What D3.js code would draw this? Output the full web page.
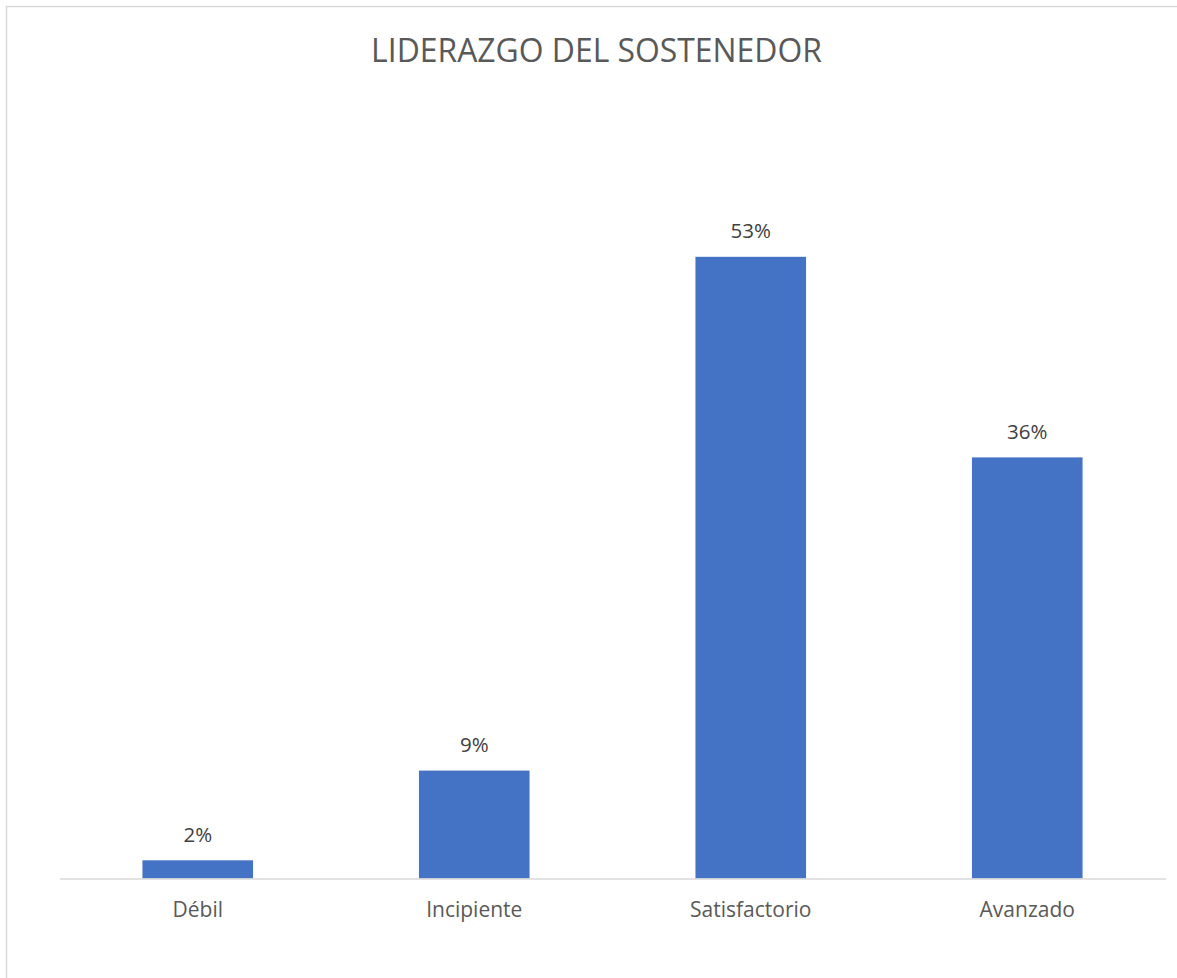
<!DOCTYPE html>
<html><head><meta charset="utf-8">
<script src="https://cdn.jsdelivr.net/npm/d3@7/dist/d3.min.js"></script>
<style>html,body{margin:0;padding:0;background:#fff;}svg{display:block;}</style>
</head><body>
<script>
const title = "LIDERAZGO DEL SOSTENEDOR";
const categories = ["Débil", "Incipiente", "Satisfactorio", "Avanzado"];
const values = [0.0155, 0.092, 0.53, 0.359];
const yDomain = [0, 0.6];

const W = 1177, H = 978;
const font = "'Open Sans', 'Noto Sans', sans-serif";
const svg = d3.select("body").append("svg").attr("width", W).attr("height", H);
svg.append("rect").attr("x", 6.5).attr("y", 6.5).attr("width", W + 10).attr("height", H + 10)
  .attr("fill", "#fff").attr("stroke", "#d9d9d9").attr("stroke-width", 1.5);

const plot = {left: 59.5, right: 1165.5, top: 174.7, bottom: 878.5};
const x = d3.scaleBand().domain(categories).range([plot.left, plot.right]).paddingInner(0.6).paddingOuter(0.3);
const y = d3.scaleLinear().domain(yDomain).range([plot.bottom, plot.top]);
const fmt = d3.format(".0%");

const t = svg.append("text").attr("x", (371 + 822) / 2).attr("y", 62.3).attr("text-anchor", "middle")
  .attr("font-family", font).attr("font-size", 31).attr("fill", "#595959").text(title);
const tl = t.node().getComputedTextLength();
t.attr("font-size", 31 * 451 / tl);

svg.append("g").selectAll("rect").data(values).join("rect")
  .attr("x", (d, i) => x(categories[i]))
  .attr("width", x.bandwidth())
  .attr("y", d => y(d))
  .attr("height", d => y(0) - y(d))
  .attr("fill", "#4472c4");

svg.append("g").selectAll("text").data(values).join("text")
  .attr("x", (d, i) => x(categories[i]) + x.bandwidth() / 2)
  .attr("y", d => y(d) - 18.5)
  .attr("text-anchor", "middle").attr("font-family", font).attr("font-size", 20.5)
  .attr("fill", "#404040").text(d => fmt(d));

const axis = d3.axisBottom(x).tickSize(0).tickPadding(0);
const ax = svg.append("g").attr("transform", `translate(0,${plot.bottom})`).call(axis);
ax.select(".domain").attr("stroke", "#d9d9d9").attr("stroke-width", 1.5);
ax.selectAll(".tick text").attr("font-family", font).attr("font-size", 21).attr("fill", "#595959")
  .attr("dy", null).attr("y", 38.2);
</script>
</body></html>
